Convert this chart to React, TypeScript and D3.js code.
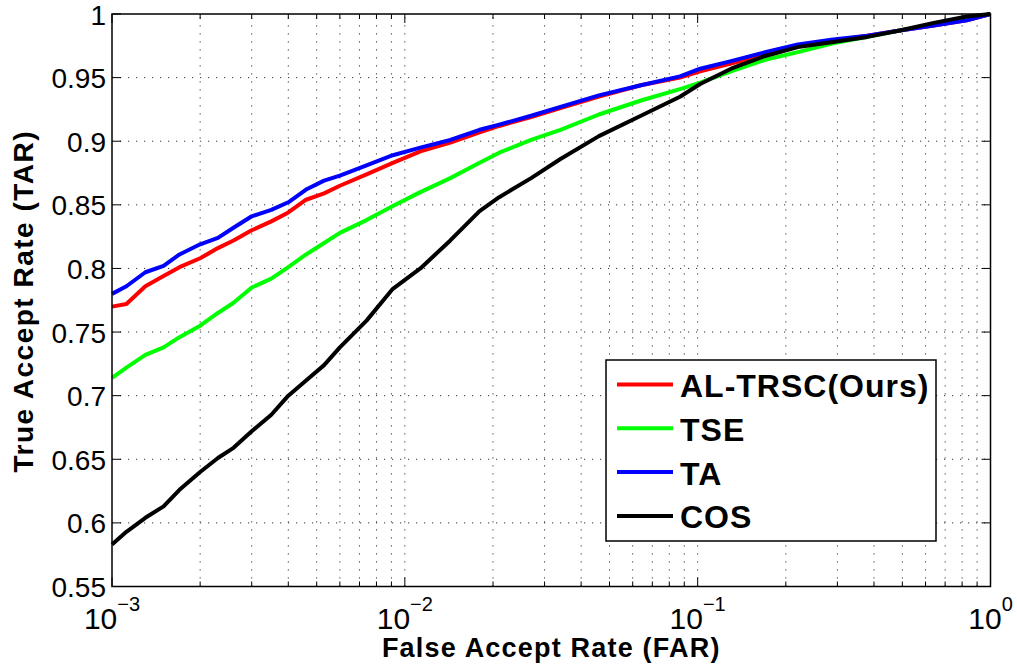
import React from "react";
import * as d3 from "d3";

// False accept rate sample points (shared by all series)
const far = [
  0.001, 0.00112, 0.0013, 0.0015, 0.0017, 0.002, 0.0023, 0.0026, 0.003, 0.0035,
  0.004, 0.0046, 0.0053, 0.006, 0.0074, 0.0091, 0.0113, 0.0143, 0.018, 0.021,
  0.027, 0.034, 0.046, 0.064, 0.087, 0.102, 0.13, 0.17, 0.22, 0.29, 0.38, 0.49,
  0.64, 0.83, 1.0,
];

const tarALTRSC = [
  0.770, 0.772, 0.786, 0.794, 0.801, 0.808, 0.816, 0.822, 0.830, 0.837,
  0.844, 0.854, 0.859, 0.865, 0.874, 0.883, 0.892, 0.899, 0.907, 0.912,
  0.919, 0.926, 0.935, 0.944, 0.950, 0.955, 0.961, 0.968, 0.975, 0.979,
  0.983, 0.987, 0.991, 0.995, 1.0,
];

const tarTSE = [
  0.714, 0.722, 0.732, 0.738, 0.746, 0.755, 0.765, 0.773, 0.785, 0.792,
  0.801, 0.811, 0.820, 0.828, 0.838, 0.849, 0.860, 0.871, 0.883, 0.891,
  0.901, 0.909, 0.921, 0.932, 0.941, 0.946, 0.955, 0.964, 0.970, 0.977,
  0.982, 0.987, 0.992, 0.996, 1.0,
];

const tarTA = [
  0.780, 0.786, 0.797, 0.802, 0.811, 0.819, 0.824, 0.832, 0.841, 0.846,
  0.852, 0.862, 0.869, 0.873, 0.881, 0.889, 0.895, 0.901, 0.909, 0.913,
  0.920, 0.927, 0.936, 0.944, 0.951, 0.957, 0.963, 0.970, 0.976, 0.980,
  0.983, 0.987, 0.991, 0.995, 1.0,
];

const tarCOS = [
  0.583, 0.593, 0.604, 0.613, 0.626, 0.640, 0.651, 0.659, 0.672, 0.685,
  0.700, 0.712, 0.724, 0.738, 0.759, 0.784, 0.800, 0.822, 0.845, 0.856,
  0.871, 0.886, 0.904, 0.920, 0.935, 0.945, 0.957, 0.967, 0.974, 0.978,
  0.982, 0.987, 0.993, 0.998, 1.0,
];

const seriesNames = ["AL-TRSC(Ours)", "TSE", "TA", "COS"];
const seriesColors = ["#ff0000", "#00ff00", "#0000ff", "#000000"];
const seriesValues = [tarALTRSC, tarTSE, tarTA, tarCOS];

const yTicks = [0.55, 0.6, 0.65, 0.7, 0.75, 0.8, 0.85, 0.9, 0.95, 1];
const yTickLabels = ["0.55", "0.6", "0.65", "0.7", "0.75", "0.8", "0.85", "0.9", "0.95", "1"];
const xMajor = [1e-3, 1e-2, 1e-1, 1];
const xExponents = ["−3", "−2", "−1", "0"];

const xLabel = "False Accept Rate (FAR)";
const yLabel = "True Accept Rate (TAR)";

const W = 1017;
const H = 669;
const L = 112;
const R = 990.5;
const T = 14;
const B = 586.5;

export default function App() {
  const x = d3.scaleLog().domain([1e-3, 1]).range([L, R]);
  const y = d3.scaleLinear().domain([0.55, 1]).range([B, T]);

  const xMinor: number[] = [];
  for (let e = -3; e < 0; e++) {
    for (let m = 2; m <= 9; m++) xMinor.push(m * Math.pow(10, e));
  }
  const xGrid = [...xMinor, 1e-2, 1e-1];

  const line = d3
    .line<[number, number]>()
    .x((d) => x(d[0]))
    .y((d) => y(d[1]));

  const font = "'Liberation Sans', Arial, Helvetica, sans-serif";
  const gridStyle = { stroke: "#333", strokeWidth: 1, strokeDasharray: "1.2 6.8" };

  const legX = 606;
  const legY = 360;
  const legW = 330;
  const legH = 181;

  return (
    <svg
      width={W}
      height={H}
      style={{ position: "absolute", left: 0, top: 0, background: "#fff" }}
      fontFamily={font}
    >
      <rect x={0} y={0} width={W} height={H} fill="#fff" />
      {/* grid */}
      {xGrid.map((v, i) => (
        <line key={"gx" + i} x1={x(v)} x2={x(v)} y1={B} y2={T} style={gridStyle} />
      ))}
      {yTicks.slice(1, -1).map((v, i) => (
        <line key={"gy" + i} x1={L} x2={R} y1={y(v)} y2={y(v)} style={gridStyle} />
      ))}
      {/* ticks */}
      {yTicks.map((v, i) => (
        <g key={"ty" + i} stroke="#000" strokeWidth={1}>
          <line x1={L} x2={L + 9} y1={y(v)} y2={y(v)} />
          <line x1={R} x2={R - 9} y1={y(v)} y2={y(v)} />
        </g>
      ))}
      {xMajor.map((v, i) => (
        <g key={"tx" + i} stroke="#000" strokeWidth={1}>
          <line x1={x(v)} x2={x(v)} y1={B} y2={B - 9} />
          <line x1={x(v)} x2={x(v)} y1={T} y2={T + 9} />
        </g>
      ))}
      {xMinor.map((v, i) => (
        <g key={"tm" + i} stroke="#000" strokeWidth={1}>
          <line x1={x(v)} x2={x(v)} y1={B} y2={B - 5} />
          <line x1={x(v)} x2={x(v)} y1={T} y2={T + 5} />
        </g>
      ))}
      {/* curves */}
      {seriesValues.map((vals, si) => (
        <path
          key={"s" + si}
          d={line(far.map((f, i) => [f, vals[i]] as [number, number])) || ""}
          fill="none"
          stroke={seriesColors[si]}
          strokeWidth={4}
          strokeLinejoin="round"
        />
      ))}
      {/* axes box */}
      <rect x={L} y={T} width={R - L} height={B - T} fill="none" stroke="#000" strokeWidth={1.5} />
      {/* y tick labels */}
      {yTicks.map((v, i) => (
        <text key={"yl" + i} x={106} y={y(v) + 10.5} textAnchor="end" fontSize={28} fill="#000">
          {yTickLabels[i]}
        </text>
      ))}
      {/* x tick labels */}
      {xMajor.map((v, i) => (
        <text key={"xl" + i} x={x(v)} y={628.5} textAnchor="middle" fontSize={30} fill="#000">
          10
          <tspan fontSize={20} dy={-18}>
            {xExponents[i]}
          </tspan>
        </text>
      ))}
      {/* axis labels */}
      <text
        x={(L + R) / 2}
        y={657}
        textAnchor="middle"
        fontSize={27}
        fontWeight="bold"
        letterSpacing={1.2}
        fill="#000"
      >
        {xLabel}
      </text>
      <text
        transform={`translate(33, ${(T + B) / 2 + 1}) rotate(-90)`}
        textAnchor="middle"
        fontSize={28}
        fontWeight="bold"
        letterSpacing={1.5}
        fill="#000"
      >
        {yLabel}
      </text>
      {/* legend */}
      <rect x={legX} y={legY} width={legW} height={legH} fill="#fff" stroke="#000" strokeWidth={1.5} />
      {seriesNames.map((name, i) => {
        const base = 397 + i * 43.8;
        return (
          <g key={"lg" + i}>
            <line x1={617} x2={673} y1={base - 12.5} y2={base - 12.5} stroke={seriesColors[i]} strokeWidth={4} />
            <text x={680} y={base} fontSize={32} fontWeight="bold" letterSpacing={1} fill="#000">
              {name}
            </text>
          </g>
        );
      })}
    </svg>
  );
}
